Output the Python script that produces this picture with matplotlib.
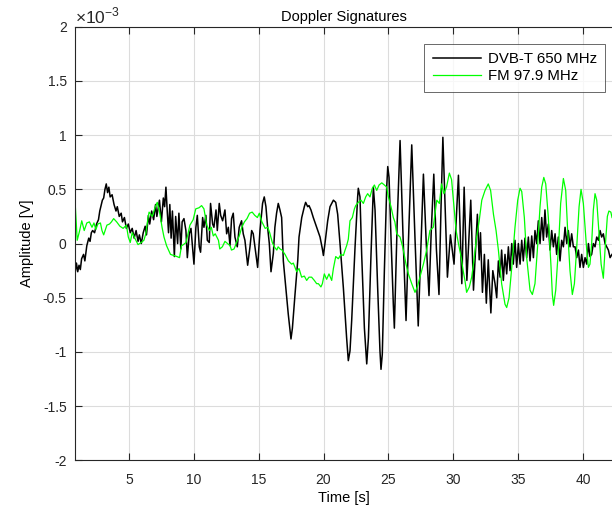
import matplotlib
matplotlib.use("Agg")

import matplotlib.pyplot as plt
from matplotlib.ticker import FuncFormatter


# DVB-T 650 MHz (time [s], amplitude [x1e-3 V])
dvb_t = [
    0.84, 0.95, 1.05, 1.15, 1.25, 1.35, 1.5, 1.6, 1.75, 1.9,
    2.0, 2.1, 2.2, 2.35, 2.5, 2.65, 2.75, 2.85, 2.95, 3.05,
    3.15, 3.25, 3.35, 3.45, 3.55, 3.7, 3.85, 4.0, 4.1, 4.25,
    4.4, 4.5, 4.65, 4.8, 4.95, 5.1, 5.25, 5.4, 5.55, 5.7,
    5.8, 5.95, 6.1, 6.25, 6.35, 6.5, 6.6, 6.75, 6.9, 7.05,
    7.15, 7.35, 7.5, 7.65, 7.75, 7.85, 7.95, 8.05, 8.15, 8.25,
    8.35, 8.5, 8.6, 8.75, 8.85, 9.0, 9.1, 9.24, 9.39, 9.5,
    9.65, 9.78, 10.01, 10.16, 10.27, 10.42, 10.52, 10.68, 10.78, 10.93,
    11.04, 11.19, 11.29, 11.45, 11.55, 11.71, 11.81, 11.96, 12.07, 12.22,
    12.4, 12.53, 12.66, 12.79, 12.91, 13.04, 13.17, 13.35, 13.5, 13.68,
    13.81, 13.94, 14.15, 14.33, 14.46, 14.58, 14.71, 14.92, 15.1, 15.3,
    15.43, 15.56, 15.69, 15.82, 15.95, 16.13, 16.25, 16.38, 16.51, 16.64,
    16.77, 16.9, 17.1, 17.28, 17.49, 17.6, 17.8, 18.01, 18.11, 18.32,
    18.52, 18.62, 18.78, 18.88, 19.03, 19.21, 19.47, 19.73, 19.91, 19.99,
    20.11, 20.32, 20.5, 20.76, 20.94, 21.09, 21.27, 21.53, 21.78, 21.91,
    22.04, 22.17, 22.43, 22.63, 22.68, 22.81, 22.94, 23.15, 23.33, 23.46,
    23.66, 23.84, 23.97, 24.17, 24.35, 24.43, 24.53, 24.69, 24.87, 24.95,
    25.05, 25.2, 25.38, 25.46, 25.68, 25.9, 26.12, 26.36, 26.58, 26.8,
    27.05, 27.3, 27.5, 27.7, 27.92, 28.13, 28.3, 28.5, 28.7, 28.9,
    29.05, 29.2, 29.38, 29.55, 29.78, 30.06, 30.4, 30.66, 30.84, 31.05,
    31.35, 31.56, 31.86, 32.0, 32.1, 32.25, 32.4, 32.55, 32.7, 32.9,
    33.05, 33.22, 33.35, 33.48, 33.61, 33.73, 33.86, 33.99, 34.12, 34.25,
    34.38, 34.51, 34.63, 34.76, 34.89, 35.02, 35.15, 35.28, 35.4, 35.53,
    35.66, 35.79, 35.92, 36.05, 36.18, 36.3, 36.43, 36.56, 36.69, 36.82,
    36.95, 37.07, 37.2, 37.33, 37.46, 37.59, 37.72, 37.85, 37.97, 38.1,
    38.23, 38.36, 38.49, 38.62, 38.75, 38.87, 39.0, 39.13, 39.26, 39.39,
    39.52, 39.65, 39.77, 39.9, 40.03, 40.16, 40.29, 40.42, 40.54, 40.67,
    40.8, 40.93, 41.06, 41.19, 41.32, 41.44, 41.57, 41.7, 41.83, 41.96,
    42.09, 42.24,
]
dvb_v = [
    -0.28, -0.18, -0.26, -0.20, -0.24, -0.14, -0.10, -0.16, -0.02, 0.05,
    0.02, 0.10, 0.12, 0.10, 0.18, 0.22, 0.30, 0.35, 0.40, 0.42,
    0.50, 0.55, 0.47, 0.52, 0.43, 0.45, 0.36, 0.30, 0.34, 0.25,
    0.28, 0.20, 0.24, 0.14, 0.18, 0.10, 0.14, 0.05, 0.12, 0.02,
    0.08, 0.00, 0.10, 0.16, 0.08, 0.26, 0.18, 0.30, 0.22, 0.36,
    0.25, 0.40, 0.20, 0.42, 0.34, 0.52, 0.30, 0.10, 0.36, 0.05,
    0.30, -0.12, 0.25, 0.00, 0.28, -0.05, 0.20, 0.23, 0.12, -0.13,
    0.09, 0.14, -0.19, 0.15, 0.26, -0.03, -0.08, 0.24, 0.15, 0.26,
    0.03, 0.01, 0.37, 0.18, 0.15, 0.31, 0.12, 0.37, 0.26, 0.21,
    0.31, 0.09, 0.15, -0.02, 0.23, 0.28, 0.06, -0.03, 0.15, 0.21,
    0.09, 0.03, -0.20, -0.03, 0.12, 0.09, -0.03, -0.22, 0.12, 0.37,
    0.43, 0.34, 0.15, 0.00, -0.26, -0.09, 0.15, 0.28, 0.37, 0.31,
    0.24, -0.16, -0.42, -0.65, -0.88, -0.78, -0.47, -0.16, 0.06, 0.24,
    0.34, 0.38, 0.34, 0.35, 0.31, 0.24, 0.15, 0.06, -0.05, -0.11,
    0.00, 0.21, 0.34, 0.40, 0.38, 0.27, 0.00, -0.41, -0.87, -1.08,
    -0.99, -0.71, -0.03, 0.43, 0.51, 0.43, -0.10, -0.78, -1.11, -0.87,
    -0.10, 0.52, 0.31, -0.40, -0.99, -1.16, -1.02, -0.25, 0.52, 0.71,
    0.61, 0.06, -0.56, -0.78, 0.20, 0.95, 0.10, -0.71, 0.15, 0.91,
    0.05, -0.76, -0.05, 0.64, 0.00, -0.48, 0.10, 0.64, -0.05, -0.47,
    0.30, 0.98, 0.30, -0.31, 0.08, -0.19, 0.63, -0.37, 0.52, -0.34,
    0.40, -0.43, 0.27, -0.15, 0.10, -0.45, -0.10, -0.55, -0.15, -0.64,
    -0.25, -0.37, -0.50, -0.16, -0.31, -0.06, -0.34, -0.10, -0.28, -0.03,
    -0.25, 0.00, -0.19, 0.03, -0.22, 0.00, -0.19, 0.03, -0.16, 0.05,
    -0.13, 0.06, -0.16, 0.07, -0.13, 0.12, 0.00, 0.21, 0.00, 0.24,
    0.03, 0.31, 0.06, 0.18, -0.06, 0.12, -0.03, 0.09, -0.10, 0.06,
    -0.16, 0.03, -0.03, 0.15, 0.00, 0.12, -0.03, 0.09, -0.03, -0.03,
    -0.13, -0.06, -0.22, -0.10, -0.22, -0.13, -0.19, 0.00, -0.12, -0.10,
    0.00, -0.03, 0.06, 0.03, 0.12, 0.06, 0.09, 0.00, -0.03, -0.06,
    -0.13, -0.10,
]

# FM 97.9 MHz (time [s], amplitude [x1e-3 V])
fm_t = [
    0.84, 1.01, 1.2, 1.36, 1.55, 1.75, 1.95, 2.15, 2.3, 2.45,
    2.6, 2.8, 2.92, 3.05, 3.3, 3.5, 3.65, 3.82, 4.05, 4.3,
    4.55, 4.8, 4.95, 5.1, 5.25, 5.45, 5.7, 5.95, 6.15, 6.3,
    6.45, 6.55, 6.8, 7.0, 7.18, 7.35, 7.55, 7.7, 7.9, 8.2,
    8.45, 8.7, 8.9, 9.05, 9.2, 9.4, 9.55, 9.7, 9.95, 10.15,
    10.4, 10.6, 10.78, 11.0, 11.2, 11.35, 11.5, 11.65, 11.9, 12.0,
    12.2, 12.4, 12.6, 12.8, 12.9, 13.1, 13.3, 13.5, 13.7, 13.9,
    14.1, 14.3, 14.5, 14.7, 14.9, 15.05, 15.25, 15.5, 15.7, 15.85,
    16.05, 16.2, 16.4, 16.5, 16.65, 16.8, 17.03, 17.29, 17.54, 17.67,
    17.93, 18.11, 18.31, 18.52, 18.7, 18.88, 19.08, 19.29, 19.47, 19.6,
    19.8, 19.91, 20.06, 20.24, 20.42, 20.63, 20.76, 20.94, 21.14, 21.35,
    21.53, 21.66, 21.78, 21.91, 22.04, 22.22, 22.38, 22.48, 22.68, 22.89,
    23.07, 23.25, 23.4, 23.58, 23.76, 23.92, 24.1, 24.28, 24.49, 24.69,
    24.87, 25.0, 25.2, 25.38, 25.5, 25.64, 25.9, 26.1, 26.36, 26.54,
    26.8, 27.05, 27.23, 27.43, 27.7, 27.95, 28.2, 28.46, 28.73, 28.93,
    29.1, 29.28, 29.48, 29.7, 29.87, 30.06, 30.22, 30.4, 30.6, 30.75,
    30.9, 31.03, 31.24, 31.42, 31.6, 31.8, 32.0, 32.2, 32.45, 32.7,
    32.88, 33.1, 33.3, 33.48, 33.73, 33.99, 34.12, 34.3, 34.51, 34.76,
    34.97, 35.15, 35.28, 35.48, 35.66, 35.92, 36.1, 36.3, 36.5, 36.69,
    36.82, 36.98, 37.13, 37.33, 37.54, 37.64, 37.74, 37.9, 38.1, 38.28,
    38.49, 38.67, 38.82, 39.0, 39.18, 39.34, 39.52, 39.7, 39.85, 40.03,
    40.16, 40.29, 40.42, 40.54, 40.67, 40.8, 40.93, 41.06, 41.24, 41.4,
    41.57, 41.7, 41.88, 42.0, 42.15, 42.24,
]
fm_v = [
    0.40, 0.03, 0.12, 0.21, 0.12, 0.19, 0.20, 0.15, 0.19, 0.13,
    0.18, 0.19, 0.12, 0.08, 0.17, 0.18, 0.20, 0.23, 0.20, 0.16,
    0.14, 0.17, 0.06, 0.01, 0.10, 0.05, -0.01, 0.01, 0.03, 0.09,
    0.22, 0.29, 0.25, 0.33, 0.38, 0.30, 0.15, 0.06, -0.02, -0.10,
    -0.11, -0.12, -0.13, -0.02, -0.01, 0.01, 0.09, 0.17, 0.22, 0.32,
    0.33, 0.35, 0.32, 0.17, 0.12, 0.15, 0.07, 0.09, 0.03, -0.05,
    -0.03, 0.02, 0.00, -0.02, -0.06, -0.05, 0.01, 0.07, 0.15, 0.20,
    0.23, 0.28, 0.29, 0.26, 0.24, 0.28, 0.20, 0.14, 0.15, 0.10,
    0.01, -0.03, -0.06, -0.03, -0.05, -0.06, -0.10, -0.16, -0.19, -0.18,
    -0.26, -0.23, -0.31, -0.30, -0.34, -0.31, -0.31, -0.34, -0.37, -0.37,
    -0.40, -0.37, -0.28, -0.33, -0.28, -0.34, -0.23, -0.12, -0.14, -0.10,
    -0.11, -0.06, -0.02, 0.04, 0.21, 0.24, 0.32, 0.35, 0.38, 0.40,
    0.37, 0.43, 0.46, 0.43, 0.51, 0.54, 0.49, 0.54, 0.56, 0.54,
    0.52, 0.43, 0.34, 0.24, 0.20, 0.09, 0.06, -0.03, -0.19, -0.28,
    -0.37, -0.45, -0.40, -0.31, -0.19, -0.06, 0.12, 0.15, 0.40, 0.37,
    0.55, 0.46, 0.52, 0.65, 0.59, 0.34, 0.12, 0.00, -0.12, -0.24,
    -0.34, -0.45, -0.40, -0.31, -0.15, 0.06, 0.21, 0.40, 0.49, 0.55,
    0.49, 0.27, 0.12, -0.06, -0.37, -0.56, -0.59, -0.50, -0.22, 0.15,
    0.40, 0.51, 0.48, 0.24, -0.13, -0.43, -0.47, -0.37, -0.03, 0.34,
    0.52, 0.61, 0.55, 0.24, -0.22, -0.47, -0.57, -0.43, -0.06, 0.37,
    0.60, 0.49, 0.12, -0.25, -0.47, -0.37, -0.03, 0.34, 0.50, 0.37,
    0.15, -0.06, -0.22, -0.19, 0.00, 0.31, 0.46, 0.40, 0.09, -0.19,
    -0.32, -0.06, 0.25, 0.30, 0.29, 0.24,
]

x_ticks = [5, 10, 15, 20, 25, 30, 35, 40]
y_ticks = [-2, -1.5, -1, -0.5, 0, 0.5, 1, 1.5, 2]

plt.rcParams["font.family"] = ["Liberation Sans", "DejaVu Sans"]
plt.rcParams["axes.unicode_minus"] = False
plt.rcParams["mathtext.fontset"] = "custom"
plt.rcParams["mathtext.rm"] = "Liberation Sans"

fig = plt.figure(figsize=(6.12, 5.13), dpi=100, facecolor="white")
ax = fig.add_axes([75 / 612, 52.6 / 513, 537.8 / 612, 433.7 / 513])

scale = 1e-3
ax.plot(dvb_t, [v * scale for v in dvb_v],
        color="black", linewidth=1.1, label="DVB-T 650 MHz")
ax.plot(fm_t, [v * scale for v in fm_v],
        color="#00ff00", linewidth=0.9, label="FM 97.9 MHz")

ax.set_xlim(0.84, 42.3)
ax.set_ylim(-2 * scale, 2 * scale)
ax.set_xticks(x_ticks)
ax.set_yticks([y * scale for y in y_ticks])
ax.yaxis.set_major_formatter(FuncFormatter(lambda y, _: f"{y / scale:g}"))

ax.grid(True, color="#dcdcdc", linewidth=0.8)
ax.set_axisbelow(True)
ax.tick_params(direction="in", length=5, width=0.8, colors="#262626",
               labelsize=10, top=True, labeltop=False, pad=6)
ax.tick_params(axis="x", pad=9)
for side in ["left", "bottom", "top"]:
    ax.spines[side].set_color("#262626")
    ax.spines[side].set_linewidth(0.8)
ax.spines["right"].set_visible(False)

ax.set_title("Doppler Signatures", fontsize=10.5, color="black", pad=4)
ax.set_xlabel("Time [s]", fontsize=10.5, color="black", labelpad=3)
ax.set_ylabel("Amplitude [V]", fontsize=10.5, color="black", labelpad=6)
ax.text(0.0, 1.0, r"$\times\mathrm{10}^{\mathrm{-3}}$",
        transform=ax.transAxes, fontsize=12.5, color="#262626",
        ha="left", va="bottom")

leg = ax.legend(loc="upper right", bbox_to_anchor=(0.9855, 0.960),
                borderaxespad=0, fancybox=False, fontsize=10.8,
                edgecolor="#262626", handlelength=3.2, handletextpad=0.47,
                labelspacing=0.2, borderpad=0.55)
leg.get_frame().set_linewidth(0.6)

plt.savefig("out.png", dpi=100)
